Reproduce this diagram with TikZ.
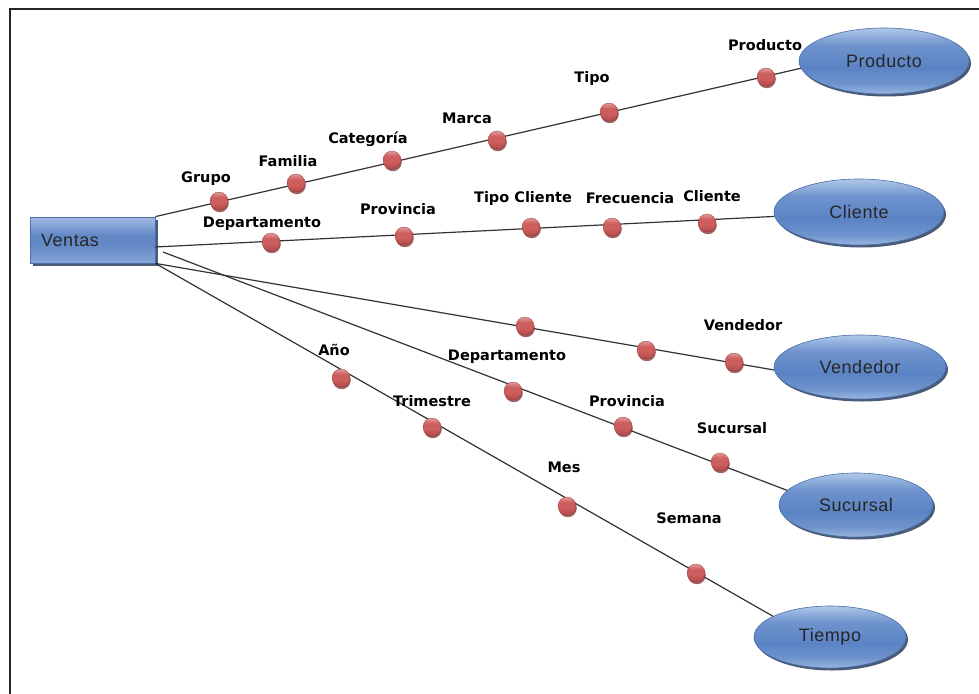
\documentclass[tikz,border=0pt]{standalone}
\usepackage{fontspec}
\setmainfont{Liberation Sans}
\newfontfamily\lblfont{DejaVu Sans}
\newfontfamily\entfont{Liberation Sans}[LetterSpace=3]
\usetikzlibrary{shapes.geometric,shadows}

% glossy blue fills for the fact box and the dimension ellipses
\definecolor{glT}{HTML}{B0C7EA}
\definecolor{glM}{HTML}{5B83C4}
\definecolor{glL}{HTML}{6E93CD}
\definecolor{glB}{HTML}{98B5DF}
\definecolor{glEdge}{HTML}{4A6FA8}
\definecolor{glShadow}{HTML}{2B3F63}
\definecolor{bxT}{HTML}{A3BBE2}
\definecolor{bxM}{HTML}{6388C6}
\definecolor{bxB}{HTML}{86A6D8}
% red beads marking hierarchy levels
\definecolor{bdT}{HTML}{E39A9A}
\definecolor{bdM}{HTML}{CD5E5E}
\definecolor{bdB}{HTML}{B44848}
\definecolor{bdShadow}{HTML}{7E2C2C}
\definecolor{connGray}{HTML}{333333}

\pgfdeclareverticalshading{dimglass}{100bp}{%
  color(0bp)=(glB); color(25bp)=(glB); color(33bp)=(glL);
  color(45bp)=(glM); color(62bp)=(glL); color(75bp)=(glT); color(100bp)=(glT)}
\pgfdeclareverticalshading{boxglass}{100bp}{%
  color(0bp)=(bxB); color(25bp)=(bxB); color(45bp)=(bxM);
  color(55bp)=(bxM); color(75bp)=(bxT); color(100bp)=(bxT)}
\pgfdeclareverticalshading{bead}{100bp}{%
  color(0bp)=(bdB); color(25bp)=(bdB); color(45bp)=(bdM);
  color(60bp)=(bdM); color(75bp)=(bdT); color(100bp)=(bdT)}

\tikzset{
  fact/.style={rectangle, draw=glEdge, line width=0.8pt, shading=boxglass,
    minimum width=125pt, minimum height=46pt, inner sep=0pt,
    drop shadow={shadow xshift=3pt, shadow yshift=-3pt, fill=glShadow, opacity=0.85},
    font=\entfont\fontsize{18}{20}\selectfont, text=black!85},
  dim/.style={ellipse, draw=glEdge, line width=0.6pt, shading=dimglass,
    inner sep=0pt,
    drop shadow={shadow xshift=2pt, shadow yshift=-2.5pt, fill=glShadow, opacity=0.85},
    font=\entfont\fontsize{18}{20}\selectfont, text=black!85},
  lvl/.style={circle, minimum size=18pt, inner sep=0pt, shading=bead,
    draw=bdB!80!black, line width=0.3pt,
    drop shadow={shadow xshift=0.8pt, shadow yshift=-2.2pt, fill=bdShadow, opacity=0.75}},
  lbl/.style={font=\lblfont\bfseries\fontsize{14.5}{17}\selectfont, text=black, inner sep=0pt},
  conn/.style={draw=connGray, line width=1.2pt},
  frameline/.style={draw=black!85, line width=2pt}
}

\begin{document}
\begin{tikzpicture}[x=1pt, y=-1pt]
\useasboundingbox (0,0) rectangle (979,693);
\fill[white] (0,0) rectangle (979,693);
\draw[frameline] (10,700) -- (10,9) -- (990,9);

% fact table and dimensions
\node[fact] (ventas) at (92.5,240) {\hspace*{-45pt}Ventas};
\node[dim, minimum width=170pt, minimum height=66pt] (producto) at (884,61) {Producto};
\node[dim, minimum width=170pt, minimum height=66pt] (cliente)  at (859,212) {Cliente};
\node[dim, minimum width=172pt, minimum height=64pt] (vendedor) at (860,367) {Vendedor};
\node[dim, minimum width=154pt, minimum height=64pt] (sucursal) at (856,505) {Sucursal};
\node[dim, minimum width=152pt, minimum height=62pt] (tiempo)   at (830,637) {Tiempo};

\coordinate (v2) at (155,247);
\coordinate (v4) at (163,252);

% hierarchy lines
\draw[conn] (ventas.north east) -- (producto.185);
\draw[conn] (v2) -- (cliente.183);
\draw[conn] (ventas.south east) -- (vendedor.182);
\draw[conn] (v4) -- (sucursal.168);
\draw[conn] (ventas.south east) -- (tiempo.160);

% Producto hierarchy
\node[lvl] (p1) at (219,201) {};
\node[lvl] (p2) at (296,183) {};
\node[lvl] (p3) at (392,160) {};
\node[lvl] (p4) at (497,140) {};
\node[lvl] (p5) at (609,112) {};
\node[lvl] (p6) at (766,77) {};
\node[lbl] at (206,179) {Grupo};
\node[lbl] at (288,161) {Familia};
\node[lbl] at (368,139) {Categoría};
\node[lbl] at (467,118) {Marca};
\node[lbl] at (592,78) {Tipo};
\node[lbl] at (765,45) {Producto};

% Cliente hierarchy
\node[lvl] (c1) at (271,242) {};
\node[lvl] (c2) at (404,236) {};
\node[lvl] (c3) at (531,227) {};
\node[lvl] (c4) at (612,227) {};
\node[lvl] (c5) at (707,223) {};
\node[lbl] at (262,224) {Departamento};
\node[lbl] at (398,209) {Provincia};
\node[lbl] at (523,198) {Tipo Cliente};
\node[lbl] at (630,198) {Frecuencia};
\node[lbl] at (712,196) {Cliente};

% Vendedor hierarchy
\node[lvl] (e1) at (525,326) {};
\node[lvl] (e2) at (646,350) {};
\node[lvl] (e3) at (734,362) {};
\node[lbl] at (743,325) {Vendedor};

% Sucursal hierarchy
\node[lvl] (s1) at (513,391) {};
\node[lvl] (s2) at (623,426) {};
\node[lvl] (s3) at (720,462) {};
\node[lbl] at (507,357) {Departamento};
\node[lbl] at (627,401) {Provincia};
\node[lbl] at (732,428) {Sucursal};

% Tiempo hierarchy
\node[lvl] (t1) at (341,378) {};
\node[lvl] (t2) at (432,427) {};
\node[lvl] (t3) at (567,506) {};
\node[lvl] (t4) at (696,573) {};
\node[lbl] at (334,350) {Año};
\node[lbl] at (432,401) {Trimestre};
\node[lbl] at (564,467) {Mes};
\node[lbl] at (689,518) {Semana};
\end{tikzpicture}
\end{document}
